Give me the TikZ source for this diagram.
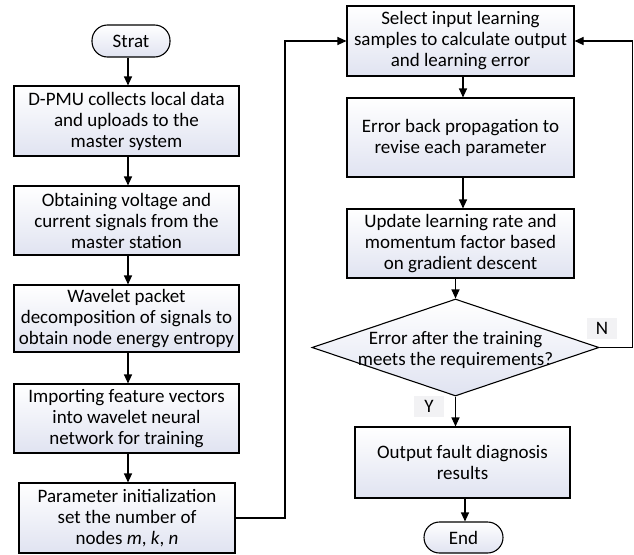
\documentclass[tikz,border=0pt]{standalone}
\usepackage{fontspec}
\setmainfont{Carlito}
\usetikzlibrary{arrows.meta,shapes.geometric,calc}
\definecolor{gradbot}{RGB}{224,227,241}
\definecolor{lblbg}{RGB}{242,242,244}
\tikzset{
  txt/.style={font=\fontsize{19}{21}\selectfont},
  procbox/.style={draw=black, line width=1.1pt, top color=white, bottom color=gradbot,
    align=center, inner sep=0pt, txt},
  termbox/.style={procbox, rounded corners=15.5pt},
  decbox/.style={draw=black, line width=1.1pt, top color=white, bottom color=gradbot,
    diamond, inner sep=0pt},
  arr/.style={line width=1.1pt, -{Triangle[length=9pt,width=8pt]}},
  lbl/.style={fill=lblbg, inner sep=0pt, txt}
}
\begin{document}
\begin{tikzpicture}[x=1pt,y=-1pt]
\useasboundingbox (0,0) rectangle (634,554);
% left column
\node[termbox, minimum width=78pt, minimum height=32pt] (start) at (131,41) {Strat};
\node[procbox, minimum width=225pt, minimum height=70pt] (b1) at (126.5,121) {D-PMU collects local data\\and uploads to the\\master system};
\node[procbox, minimum width=225pt, minimum height=69pt] (b2) at (126.5,220.5) {Obtaining voltage and\\current signals from the\\master station};
\node[procbox, minimum width=225pt, minimum height=67pt] (b3) at (126.5,318.5) {Wavelet packet\\decomposition of signals to\\obtain node energy entropy};
\node[procbox, minimum width=225pt, minimum height=69pt] (b4) at (126.5,418.5) {Importing feature vectors\\into wavelet neural\\network for training};
\node[procbox, minimum width=216pt, minimum height=70pt] (b5) at (127,518) {Parameter initialization\\set the number of\\nodes \textit{m}, \textit{k}, \textit{n}};
% right column
\node[procbox, minimum width=227pt, minimum height=70pt] (s1) at (460.5,41) {Select input learning\\samples to calculate output\\and learning error};
\node[procbox, minimum width=227pt, minimum height=79pt] (s2) at (460.5,137.5) {Error back propagation to\\revise each parameter};
\node[procbox, minimum width=227pt, minimum height=69pt] (s3) at (460.5,243.5) {Update learning rate and\\momentum factor based\\on gradient descent};
\node[decbox, minimum width=287pt, minimum height=97pt] (dia) at (455.5,347.5) {};
\node[align=center, inner sep=0pt, txt] (diat) at (455.5,350) {Error after the training\\meets the requirements?};
\node[procbox, minimum width=215pt, minimum height=71pt] (out) at (462.5,462.5) {Output fault diagnosis\\results};
\node[termbox, minimum width=79pt, minimum height=31pt] (end) at (463.5,537.5) {End};
% labels
\node[lbl, minimum width=30pt, minimum height=21pt] (nl) at (602,328) {N};
\node[lbl, minimum width=30pt, minimum height=21pt] (yl) at (429,406) {Y};
% connectors left
\draw[arr] ($(start.south)+(-3,0)$) -- (b1.north -| 128,0);
\draw[arr] (b1.south -| 128,0) -- (b2.north -| 128,0);
\draw[arr] (b2.south -| 128,0) -- (b3.north -| 128,0);
\draw[arr] (b3.south -| 128,0) -- (b4.north -| 128,0);
\draw[arr] (b4.south -| 128,0) -- (b5.north -| 128,0);
\draw[arr] (b5.east) -- (285,518) coordinate (c1) |- (s1.west);
% connectors right
\draw[arr] (s1.south -| 463,0) -- (s2.north -| 463,0);
\draw[arr] (s2.south -| 463,0) -- (s3.north -| 463,0);
\draw[arr] (s3.south -| dia.north) -- (dia.north);
\draw[arr] (dia.south) -- (out.north -| dia.south);
\draw[arr] (out.south -| 465,0) -- (end.north -| 465,0);
\draw[arr] (dia.east) -- (632.5,347.5) coordinate (c2) |- (s1.east);
\end{tikzpicture}
\end{document}
